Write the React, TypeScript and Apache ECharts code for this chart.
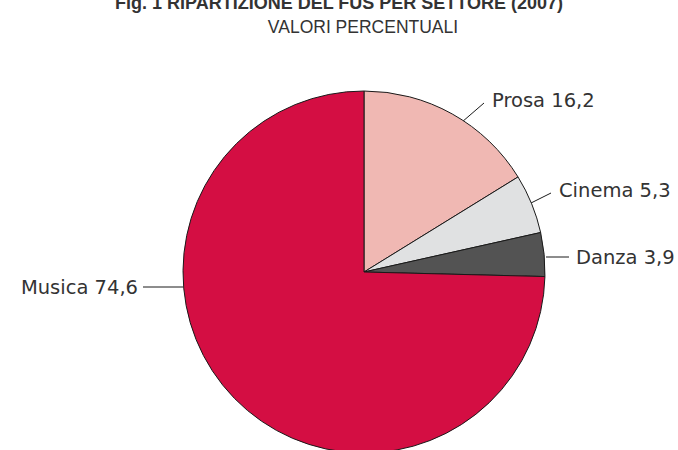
import React, { useEffect, useRef } from "react";
import * as echarts from "echarts";

const titleText = "Fig. 1 RIPARTIZIONE DEL FUS PER SETTORE (2007)";
const subtitleText = "VALORI PERCENTUALI";
const categories = ["Prosa", "Cinema", "Danza", "Musica"];
const values = [16.2, 5.3, 3.9, 74.6];
const colors = ["#F0B8B3", "#E0E1E2", "#535353", "#D40E43"];

// label anchor layouts (text x/y, align, leader line)
const labelLayouts = [
  { x: 492, y: 100, align: "left", line: [[462, 122], [484, 103]] },
  { x: 559, y: 190, align: "left", line: [[531, 203], [551, 193]] },
  { x: 576, y: 257, align: "left", line: [[546, 257], [569, 257]] },
  { x: 138, y: 287, align: "right", line: [[183, 287], [143, 287]] },
];

export default function App() {
  const ref = useRef<HTMLDivElement>(null);
  useEffect(() => {
    document.body.style.margin = "0";
    const chart = echarts.init(ref.current!, null, { renderer: "svg" });
    chart.setOption({
      animation: false,
      backgroundColor: "#ffffff",
      graphic: [
        {
          type: "text",
          x: 339,
          y: -6,
          style: {
            text: titleText,
            font: "bold 18px 'Liberation Sans'",
            fill: "#333333",
            align: "center",
            verticalAlign: "top",
          },
        },
        {
          type: "text",
          x: 363,
          y: 18,
          style: {
            text: subtitleText,
            font: "17.5px 'Liberation Sans'",
            fill: "#333333",
            align: "center",
            verticalAlign: "top",
          },
        },
      ],
      series: [
        {
          type: "pie",
          center: [364, 272],
          radius: 181,
          startAngle: 90,
          clockwise: true,
          data: categories.map((c, i) => ({
            name: c,
            value: values[i],
            itemStyle: { color: colors[i] },
          })),
          itemStyle: { borderColor: "#1a1a1a", borderWidth: 1 },
          label: {
            show: true,
            position: "outside",
            overflow: "none",
            formatter: (p: any) => `${p.name} ${String(p.value).replace(".", ",")}`,
            fontFamily: "DejaVu Sans",
            fontSize: 19.5,
            color: "#333333",
          },
          labelLine: { show: true, lineStyle: { color: "#1a1a1a", width: 1 } },
          labelLayout: (params: any) => {
            const l = labelLayouts[params.dataIndex];
            return {
              x: l.x,
              y: l.y,
              align: l.align,
              verticalAlign: "middle",
              labelLinePoints: [l.line[0], l.line[1], l.line[1]],
            };
          },
          emphasis: { disabled: true },
        },
      ],
    });
    return () => chart.dispose();
  }, []);
  return <div ref={ref} style={{ width: 678, height: 450 }} />;
}
